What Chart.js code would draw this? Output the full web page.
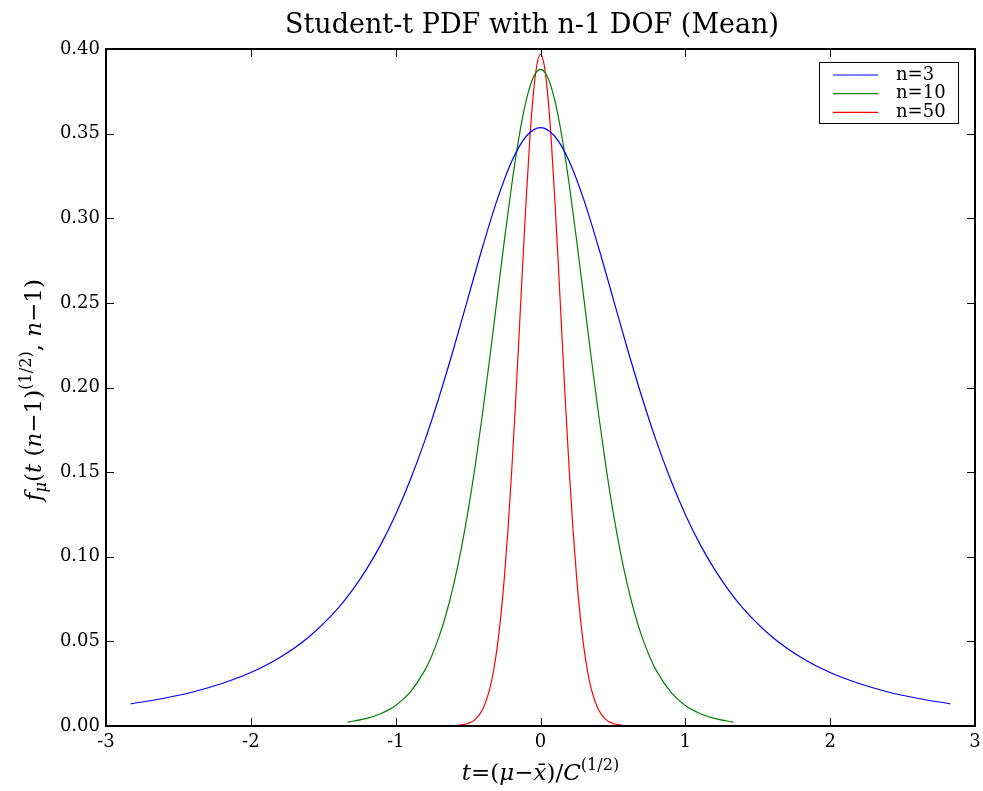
<!DOCTYPE html>
<html>
<head>
<meta charset="utf-8">
<script src="https://cdn.jsdelivr.net/npm/chart.js@4"></script>
<style>
html, body { margin: 0; padding: 0; background: #fff; }
</style>
</head>
<body>
<canvas id="tChart" width="983" height="791"></canvas>
<script>
// tick values
var xTicks = [-3, -2, -1, 0, 1, 2, 3];
var yTicks = [0, 0.05, 0.10, 0.15, 0.20, 0.25, 0.30, 0.35, 0.40];

var seriesLabels = ['n=3', 'n=10', 'n=50'];
var seriesColors = ['#0000ff', '#008000', '#ff0000'];

// n=3 curve
var n3X = [-2.83, -2.6, -2.4, -2.2, -2.0, -1.8, -1.6, -1.4, -1.3, -1.2, -1.1, -1.0, -0.9, -0.8, -0.7, -0.6, -0.5, -0.4, -0.3, -0.2, -0.1, 0,
    0.1, 0.2, 0.3, 0.4, 0.5, 0.6, 0.7, 0.8, 0.9, 1.0, 1.1, 1.2, 1.3, 1.4, 1.6, 1.8, 2.0, 2.2, 2.4, 2.6, 2.83];
var n3Y = [0.0131, 0.0164, 0.0201, 0.0251, 0.0316, 0.0405, 0.0526, 0.0694, 0.0801, 0.0928, 0.1076, 0.1250, 0.1452, 0.1683, 0.1944, 0.2229, 0.2530, 0.2830, 0.3107, 0.3334, 0.3483, 0.3536,
    0.3483, 0.3334, 0.3107, 0.2830, 0.2530, 0.2229, 0.1944, 0.1683, 0.1452, 0.1250, 0.1076, 0.0928, 0.0801, 0.0694, 0.0526, 0.0405, 0.0316, 0.0251, 0.0201, 0.0164, 0.0131];

// n=10 curve
var n10X = [-1.333, -1.2, -1.1, -1.0, -0.9, -0.8, -0.75, -0.7, -0.65, -0.6, -0.55, -0.5, -0.45, -0.4, -0.35, -0.3, -0.25, -0.2, -0.15, -0.1, -0.05, 0,
    0.05, 0.1, 0.15, 0.2, 0.25, 0.3, 0.35, 0.4, 0.45, 0.5, 0.55, 0.6, 0.65, 0.7, 0.75, 0.8, 0.9, 1.0, 1.1, 1.2, 1.333];
var n10Y = [0.0023, 0.0045, 0.0074, 0.0121, 0.0200, 0.0327, 0.0417, 0.0528, 0.0666, 0.0834, 0.1035, 0.1271, 0.1543, 0.1848, 0.2177, 0.2522, 0.2866, 0.3189, 0.3472, 0.3692, 0.3832, 0.3880,
    0.3832, 0.3692, 0.3472, 0.3189, 0.2866, 0.2522, 0.2177, 0.1848, 0.1543, 0.1271, 0.1035, 0.0834, 0.0666, 0.0528, 0.0417, 0.0327, 0.0200, 0.0121, 0.0074, 0.0045, 0.0023];

// n=50 curve
var n50X = [-0.571, -0.5, -0.45, -0.4, -0.35, -0.325, -0.3, -0.275, -0.25, -0.225, -0.2, -0.175, -0.15, -0.125, -0.1, -0.075, -0.05, -0.025, 0,
    0.025, 0.05, 0.075, 0.1, 0.125, 0.15, 0.175, 0.2, 0.225, 0.25, 0.275, 0.3, 0.325, 0.35, 0.4, 0.45, 0.5, 0.571];
var n50Y = [0.0003, 0.0015, 0.0039, 0.0097, 0.0221, 0.0322, 0.0460, 0.0641, 0.0872, 0.1155, 0.1489, 0.1867, 0.2275, 0.2694, 0.3095, 0.3450, 0.3729, 0.3907, 0.3969,
    0.3907, 0.3729, 0.3450, 0.3095, 0.2694, 0.2275, 0.1867, 0.1489, 0.1155, 0.0872, 0.0641, 0.0460, 0.0322, 0.0221, 0.0097, 0.0039, 0.0015, 0.0003];

function toPoints(xs, ys) {
    return xs.map(function (x, i) { return { x: x, y: ys[i] }; });
}

var serif = "'DejaVu Serif', 'Liberation Serif', serif";

function mathFont(p, size) {
    var s = (p.s === 'sup' || p.s === 'sub') ? size * 0.7 : size;
    return (p.i ? 'italic ' : '') + s + 'px ' + serif;
}

// draws a row of text pieces centred on x, baseline y
function drawMath(ctx, parts, x, y, size) {
    var total = 0;
    parts.forEach(function (p) {
        ctx.font = mathFont(p, size);
        p.w = ctx.measureText(p.t).width;
        total += p.w;
    });
    var cx = x - total / 2;
    ctx.textAlign = 'left';
    ctx.textBaseline = 'alphabetic';
    parts.forEach(function (p) {
        var dy = 0;
        if (p.s === 'sup') dy = -size * 0.45;
        if (p.s === 'sub') dy = size * 0.22;
        ctx.font = mathFont(p, size);
        ctx.fillText(p.t, cx, y + dy);
        cx += p.w;
    });
}

var xLabelParts = [
    { t: 't', i: true }, { t: '=(' }, { t: '\u03bc', i: true }, { t: '\u2212' },
    { t: 'x\u0304', i: true }, { t: ')/' }, { t: 'C', i: true }, { t: '(1/2)', s: 'sup' }
];
var yLabelParts = [
    { t: 'f', i: true }, { t: '\u03bc', i: true, s: 'sub' }, { t: '(' }, { t: 't', i: true },
    { t: ' (' }, { t: 'n', i: true }, { t: '\u22121)' }, { t: '(1/2)', s: 'sup' },
    { t: ', ' }, { t: 'n', i: true }, { t: '\u22121)' }
];

var framePlugin = {
    id: 'frame',
    beforeDraw: function (chart) {
        var ctx = chart.ctx;
        ctx.save();
        ctx.fillStyle = '#fff';
        ctx.fillRect(0, 0, chart.width, chart.height);
        ctx.restore();
    },
    afterDraw: function (chart) {
        var ctx = chart.ctx;
        var a = chart.chartArea;
        var xs = chart.scales.x, ys = chart.scales.y;
        ctx.save();

        // inward ticks on all four sides
        ctx.strokeStyle = '#000';
        ctx.lineWidth = 1;
        ctx.beginPath();
        xTicks.forEach(function (v) {
            var px = Math.round(xs.getPixelForValue(v)) + 0.5;
            ctx.moveTo(px, a.bottom); ctx.lineTo(px, a.bottom - 8);
            ctx.moveTo(px, a.top); ctx.lineTo(px, a.top + 8);
        });
        yTicks.forEach(function (v) {
            var py = Math.round(ys.getPixelForValue(v)) + 0.5;
            ctx.moveTo(a.left, py); ctx.lineTo(a.left + 8, py);
            ctx.moveTo(a.right, py); ctx.lineTo(a.right - 8, py);
        });
        ctx.stroke();

        // spines
        ctx.lineWidth = 2;
        ctx.strokeRect(a.left, a.top, a.right - a.left, a.bottom - a.top);

        // title
        ctx.fillStyle = '#000';
        ctx.font = '27px ' + serif;
        ctx.textAlign = 'center';
        ctx.textBaseline = 'alphabetic';
        ctx.fillText('Student-t PDF with n-1 DOF (Mean)', 532, 33);

        // axis labels
        drawMath(ctx, xLabelParts, (a.left + a.right) / 2, 780, 23);
        ctx.save();
        ctx.translate(41, 390);
        ctx.rotate(-Math.PI / 2);
        drawMath(ctx, yLabelParts, 0, 0, 23);
        ctx.restore();

        // legend
        var lx = 819.5, ly = 62.5, lw = 139, lh = 61;
        ctx.fillStyle = '#fff';
        ctx.fillRect(lx, ly, lw, lh);
        ctx.strokeStyle = '#000';
        ctx.lineWidth = 1;
        ctx.strokeRect(lx, ly, lw, lh);
        ctx.font = '18px ' + serif;
        ctx.textAlign = 'left';
        ctx.textBaseline = 'middle';
        chart.data.datasets.forEach(function (ds, i) {
            var y = 75 + i * 18.7;
            ctx.strokeStyle = ds.borderColor;
            ctx.lineWidth = 1.2;
            ctx.beginPath();
            ctx.moveTo(833, y); ctx.lineTo(878, y);
            ctx.stroke();
            ctx.fillStyle = '#000';
            ctx.fillText(ds.label, 896, y);
        });
        ctx.restore();
    }
};

var tChartCanvas = document.getElementById('tChart').getContext('2d');
var tChart = new Chart(tChartCanvas, {
    type: 'line',
    data: {
        datasets: [{
            label: seriesLabels[0],
            data: toPoints(n3X, n3Y),
            borderColor: seriesColors[0],
            borderWidth: 1.2,
            pointRadius: 0,
            fill: false,
            cubicInterpolationMode: 'monotone',
        }, {
            label: seriesLabels[1],
            data: toPoints(n10X, n10Y),
            borderColor: seriesColors[1],
            borderWidth: 1.2,
            pointRadius: 0,
            fill: false,
            cubicInterpolationMode: 'monotone',
        }, {
            label: seriesLabels[2],
            data: toPoints(n50X, n50Y),
            borderColor: seriesColors[2],
            borderWidth: 1.2,
            pointRadius: 0,
            fill: false,
            cubicInterpolationMode: 'monotone',
        }],
    },
    options: {
        responsive: false,
        animation: false,
        devicePixelRatio: 1,
        layout: { padding: { left: 0, top: 49, right: 8, bottom: 0 } },
        plugins: {
            legend: { display: false },
            title: { display: false },
            tooltip: { enabled: false },
        },
        scales: {
            x: {
                type: 'linear',
                min: -3,
                max: 3,
                afterBuildTicks: function (scale) {
                    scale.ticks = xTicks.map(function (v) { return { value: v }; });
                },
                afterFit: function (scale) {
                    scale.height = 65;
                    scale.paddingLeft = 0;
                    scale.paddingRight = 0;
                },
                grid: { display: false, drawTicks: false, tickLength: 0 },
                border: { display: false },
                ticks: {
                    padding: 6,
                    color: '#000',
                    maxRotation: 0,
                    font: { family: serif, size: 18 },
                    callback: function (v) { return String(v); },
                },
            },
            y: {
                type: 'linear',
                min: 0,
                max: 0.4,
                afterBuildTicks: function (scale) {
                    scale.ticks = yTicks.map(function (v) { return { value: v }; });
                },
                afterFit: function (scale) {
                    scale.width = 106;
                    scale.paddingTop = 0;
                    scale.paddingBottom = 0;
                },
                grid: { display: false, drawTicks: false, tickLength: 0 },
                border: { display: false },
                ticks: {
                    padding: 6,
                    color: '#000',
                    font: { family: serif, size: 18 },
                    callback: function (v) { return v.toFixed(2); },
                },
            },
        },
    },
    plugins: [framePlugin],
});
</script>
</body>
</html>
